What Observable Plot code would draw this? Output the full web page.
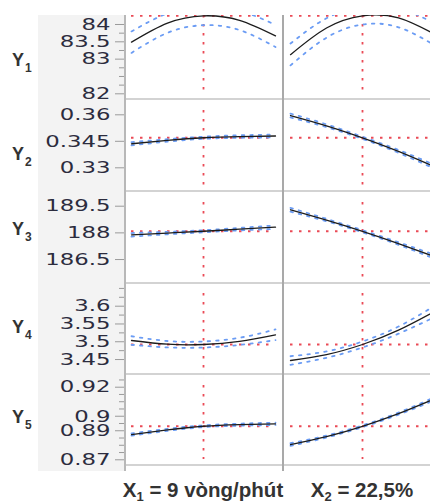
<!DOCTYPE html>
<html><head><meta charset="utf-8">
<script src="https://cdn.jsdelivr.net/npm/d3@7"></script>
<script src="https://cdn.jsdelivr.net/npm/@observablehq/plot@0.6"></script>
<style>
html,body{margin:0;padding:0;background:#fff;overflow:hidden}
#chart{position:relative;width:430px;height:502px;overflow:hidden;background:#fff}
.deco{position:absolute}
.ylab{position:absolute;left:12px;font:bold 18px "Liberation Sans",Arial,sans-serif;color:#333;line-height:18px;white-space:nowrap}
.ylab sub{font-size:12px;vertical-align:baseline;position:relative;top:6px;line-height:0;margin-left:1px}
.xlab{position:absolute;top:478.5px;font:bold 20.5px "Liberation Sans",Arial,sans-serif;color:#333;text-align:center;white-space:nowrap;line-height:22px}
.xlab sub{font-size:13px;vertical-align:baseline;position:relative;top:4px;line-height:0}
</style></head><body><div id="chart"></div>
<script>
// ---------- data ----------
const xCoded = [-1, -0.5, 0, 0.5, 1];
const factorLabels = ["X<sub>1</sub> = 9 vòng/phút", "X<sub>2</sub> = 22,5%"];
const responseIndex = ["1", "2", "3", "4", "5"];

// Y1
const y1x1   = [83.49, 84.04, 84.25, 84.12, 83.67];
const y1x1Lo = [83.18, 83.76, 83.98, 83.84, 83.35];
const y1x1Hi = [83.80, 84.32, 84.52, 84.40, 83.99];
const y1x2   = [83.13, 83.90, 84.25, 84.19, 83.72];
const y1x2Lo = [82.82, 83.62, 84.00, 83.92, 83.40];
const y1x2Hi = [83.45, 84.18, 84.50, 84.46, 84.04];
// Y2
const y2x1   = [0.3436, 0.3455, 0.3470, 0.3477, 0.3480];
const y2x1Lo = [0.3427, 0.3448, 0.3464, 0.3470, 0.3472];
const y2x1Hi = [0.3445, 0.3462, 0.3476, 0.3484, 0.3488];
const y2x2   = [0.3596, 0.3538, 0.3470, 0.3393, 0.3306];
const y2x2Lo = [0.3585, 0.3530, 0.3464, 0.3385, 0.3295];
const y2x2Hi = [0.3607, 0.3546, 0.3476, 0.3401, 0.3317];
// Y3
const y3x1   = [187.89, 187.99, 188.09, 188.21, 188.32];
const y3x1Lo = [187.79, 187.92, 188.03, 188.14, 188.22];
const y3x1Hi = [187.99, 188.06, 188.15, 188.28, 188.42];
const y3x2   = [189.30, 188.72, 188.09, 187.40, 186.66];
const y3x2Lo = [189.19, 188.65, 188.03, 187.33, 186.55];
const y3x2Hi = [189.41, 188.79, 188.15, 187.47, 186.77];
// Y4
const y4x1   = [3.5035, 3.4931, 3.4923, 3.5011, 3.5196];
const y4x1Lo = [3.4915, 3.4841, 3.4838, 3.4911, 3.5046];
const y4x1Hi = [3.5155, 3.5021, 3.5008, 3.5111, 3.5346];
const y4x2   = [3.4473, 3.4639, 3.4923, 3.5327, 3.5850];
const y4x2Lo = [3.4353, 3.4549, 3.4838, 3.5227, 3.5690];
const y4x2Hi = [3.4593, 3.4729, 3.5008, 3.5427, 3.6010];
// Y5
const y5x1   = [0.8874, 0.8906, 0.8931, 0.8942, 0.8948];
const y5x1Lo = [0.8866, 0.8899, 0.8925, 0.8935, 0.8940];
const y5x1Hi = [0.8882, 0.8913, 0.8937, 0.8949, 0.8956];
const y5x2   = [0.8805, 0.8860, 0.8931, 0.9018, 0.9120];
const y5x2Lo = [0.8796, 0.8853, 0.8925, 0.9011, 0.9110];
const y5x2Hi = [0.8814, 0.8867, 0.8937, 0.9025, 0.9130];

// tick labels
const y1Ticks = [82, 83, 83.5, 84];
const y1Minor = [82.25, 82.5, 82.75, 83.25, 83.75];
const y2Ticks = [0.33, 0.345, 0.36];
const y2Minor = [];
const y3Ticks = [186.5, 188, 189.5];
const y3Minor = [];
const y4Ticks = [3.45, 3.5, 3.55, 3.6];
const y4Minor = [3.475, 3.525, 3.575, 3.625, 3.65];
const y5Ticks = [0.87, 0.89, 0.9, 0.92];
const y5Minor = [0.875, 0.88, 0.885, 0.895, 0.905, 0.91, 0.915, 0.925];

// axis ranges of each response
const yDomains = [[81.8355, 84.2597], [0.31659, 0.36866], [185.152, 190.327], [3.40793, 3.6638], [0.86607, 0.92875]];

// ---------- layout ----------
const rowTops    = [15, 99, 191, 283, 374];
const rowBottoms = [99, 191, 283, 374, 465];
const vInsets = [[0, 3], [11, 6], [11, 5], [10, 3], [11, 6]];
const yLabelBaselines = [66.5, 160, 235, 333.3, 423.3];
const RED = "#ea4a56", BLUE = "#6b9cf4", INK = "#1c1c1c";

const series = [
  [[y1x1, y1x1Lo, y1x1Hi], [y1x2, y1x2Lo, y1x2Hi]],
  [[y2x1, y2x1Lo, y2x1Hi], [y2x2, y2x2Lo, y2x2Hi]],
  [[y3x1, y3x1Lo, y3x1Hi], [y3x2, y3x2Lo, y3x2Hi]],
  [[y4x1, y4x1Lo, y4x1Hi], [y4x2, y4x2Lo, y4x2Hi]],
  [[y5x1, y5x1Lo, y5x1Hi], [y5x2, y5x2Lo, y5x2Hi]]
];
const majorTicks = [y1Ticks, y2Ticks, y3Ticks, y4Ticks, y5Ticks];
const minorTicks = [y1Minor, y2Minor, y3Minor, y4Minor, y5Minor];

const chart = document.getElementById("chart");
function deco(l, t, w, h, bg) {
  const d = document.createElement("div");
  d.className = "deco";
  Object.assign(d.style, {left: l + "px", top: t + "px", width: w + "px", height: h + "px", background: bg});
  chart.appendChild(d);
}
// grey label band
deco(38, 15, 86, 456, "#f3f3f3");

function cell(r, c) {
  const [m, lo, hi] = series[r][c];
  const data = xCoded.map((x, i) => ({x, m: m[i], lo: lo[i], hi: hi[i]}));
  const h = rowBottoms[r] - rowTops[r];
  const left = c === 0;
  const marks = [
    Plot.ruleY([{y: m[2], x1: xCoded[0], x2: xCoded[xCoded.length - 1]}],
      {y: "y", x1: "x1", x2: "x2", stroke: RED, strokeWidth: 1.8, strokeDasharray: "2.5,6.5"}),
    Plot.ruleX([0], {stroke: RED, strokeWidth: 1.8, strokeDasharray: "2.5,6.5",
      insetTop: vInsets[r][0], insetBottom: vInsets[r][1]}),
    Plot.line(data, {x: "x", y: "hi", curve: "natural", stroke: BLUE, strokeWidth: 1.8, strokeDasharray: "2.5,6", clip: true}),
    Plot.line(data, {x: "x", y: "lo", curve: "natural", stroke: BLUE, strokeWidth: 1.8, strokeDasharray: "2.5,6", clip: true}),
    Plot.line(data, {x: "x", y: "m", curve: "natural", stroke: INK, strokeWidth: 1.3, clip: true})
  ];
  if (left) {
    if (minorTicks[r].length) marks.push(Plot.axisY(minorTicks[r], {anchor: "left", tickSize: 6, stroke: "#9a9a9a", fill: "none", label: null}));
    marks.push(Plot.axisY(majorTicks[r], {anchor: "left", tickSize: 10, tickPadding: 5, stroke: "#9a9a9a",
      fill: "#2c2c3e", fontSize: 16.5, fontFamily: "DejaVu Sans", tickFormat: d => String(d), label: null}));
  }
  const svg = Plot.plot({
    width: left ? 283 : 160,
    height: h,
    marginLeft: left ? 125 : 1, marginRight: 0, marginTop: 0, marginBottom: 0,
    x: {domain: [-1, 1], range: left ? [131, 275] : [7, 151], axis: null},
    y: left ? {domain: yDomains[r], label: null} : {domain: yDomains[r], label: null, axis: null},
    marks
  });
  Object.assign(svg.style, {position: "absolute", left: (left ? 0 : 283) + "px", top: rowTops[r] + "px",
    background: "transparent", overflow: "visible", fontFamily: "DejaVu Sans", maxWidth: "none"});
  if (left) {
    svg.querySelectorAll("text").forEach(t => {
      const tr = t.getAttribute("transform") || "";
      t.setAttribute("transform", tr + " scale(1.38,1)");
    });
  }
  chart.appendChild(svg);
}
for (let r = 0; r < 5; r++) { cell(r, 0); cell(r, 1); }

// separators
for (const y of rowBottoms) deco(125, y - 1, 305, 2, "#d3d3d3");
deco(124, 15, 2, 456, "#b8b8b8");
deco(282, 15, 2, 456, "#a9a9a9");

// response labels
responseIndex.forEach((k, r) => {
  const d = document.createElement("div");
  d.className = "ylab";
  d.style.top = (yLabelBaselines[r] - 15.2) + "px";
  d.innerHTML = "Y<sub>" + k + "</sub>";
  chart.appendChild(d);
});
// factor labels
const centers = [203, 362];
factorLabels.forEach((lab, i) => {
  const d = document.createElement("div");
  d.className = "xlab";
  d.style.left = (centers[i] - 100) + "px";
  d.style.width = "200px";
  d.innerHTML = lab;
  chart.appendChild(d);
});
</script></body></html>
